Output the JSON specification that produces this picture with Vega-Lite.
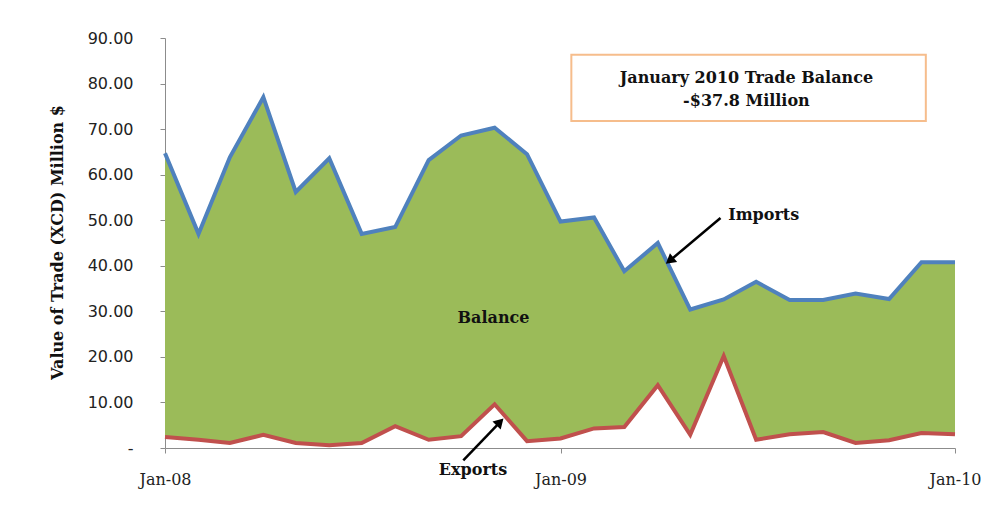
{
  "$schema": "https://vega.github.io/schema/vega-lite/v6.json",
  "autosize": "none",
  "width": 790,
  "height": 410,
  "padding": {"left": 165, "top": 38, "right": 42, "bottom": 66},
  "background": "white",
  "config": {"view": {"stroke": null}},
  "datasets": {
    "trade": [
      {"month": "2008-01-01", "imports": 64.7, "exports": 2.4},
      {"month": "2008-02-01", "imports": 47.0, "exports": 1.8},
      {"month": "2008-03-01", "imports": 63.8, "exports": 1.1},
      {"month": "2008-04-01", "imports": 77.0, "exports": 2.9},
      {"month": "2008-05-01", "imports": 56.2, "exports": 1.1},
      {"month": "2008-06-01", "imports": 63.6, "exports": 0.6},
      {"month": "2008-07-01", "imports": 47.0, "exports": 1.1},
      {"month": "2008-08-01", "imports": 48.5, "exports": 4.8},
      {"month": "2008-09-01", "imports": 63.2, "exports": 1.8},
      {"month": "2008-10-01", "imports": 68.6, "exports": 2.6},
      {"month": "2008-11-01", "imports": 70.3, "exports": 9.6},
      {"month": "2008-12-01", "imports": 64.5, "exports": 1.5},
      {"month": "2009-01-01", "imports": 49.7, "exports": 2.1},
      {"month": "2009-02-01", "imports": 50.6, "exports": 4.3},
      {"month": "2009-03-01", "imports": 38.8, "exports": 4.6},
      {"month": "2009-04-01", "imports": 45.0, "exports": 13.8},
      {"month": "2009-05-01", "imports": 30.4, "exports": 2.9},
      {"month": "2009-06-01", "imports": 32.6, "exports": 20.2},
      {"month": "2009-07-01", "imports": 36.5, "exports": 1.8},
      {"month": "2009-08-01", "imports": 32.5, "exports": 3.0},
      {"month": "2009-09-01", "imports": 32.5, "exports": 3.5},
      {"month": "2009-10-01", "imports": 33.9, "exports": 1.1},
      {"month": "2009-11-01", "imports": 32.7, "exports": 1.7},
      {"month": "2009-12-01", "imports": 40.8, "exports": 3.3},
      {"month": "2010-01-01", "imports": 40.8, "exports": 3.0}
    ],
    "labels": [
      {"label": "Balance", "month": "2008-10-31", "value": 28.5},
      {"label": "Imports", "month": "2009-07-08", "value": 51.2},
      {"label": "Exports", "month": "2008-10-12", "value": -4.9}
    ],
    "arrows": [
      {"name": "Imports", "month": "2009-05-29", "value": 50.5, "month2": "2009-04-12", "value2": 41.1},
      {"name": "Exports", "month": "2008-10-03", "value": -2.7, "month2": "2008-11-06", "value2": 5.7}
    ],
    "box": [
      {"month": "2009-01-11", "month2": "2009-12-05", "value": 71.8, "value2": 86.3}
    ],
    "boxtext": [
      {"line": "January 2010 Trade Balance", "month": "2009-06-22", "value": 81.3},
      {"line": "-$37.8 Million", "month": "2009-06-22", "value": 76.2}
    ]
  },
  "layer": [
    {
      "data": {"name": "trade"},
      "mark": {"type": "area", "color": "#9BBB59"},
      "encoding": {
        "x": {
          "field": "month", "type": "temporal",
          "scale": {"type": "utc", "domain": [{"year": 2008, "month": 1, "date": 1, "utc": true}, {"year": 2010, "month": 1, "date": 1, "utc": true}]},
          "axis": {
            "values": [{"year": 2008, "month": 1, "date": 1, "utc": true}, {"year": 2009, "month": 1, "date": 1, "utc": true}, {"year": 2010, "month": 1, "date": 1, "utc": true}],
            "format": "%b-%y",
            "title": null,
            "grid": false,
            "domainColor": "#8C8C8C",
            "tickColor": "#8C8C8C",
            "tickSize": 5,
            "labelFont": "DejaVu Serif",
            "labelFontSize": 16,
            "labelColor": "#222222",
            "labelPadding": 18,
            "labelFlush": false
          }
        },
        "y": {
          "field": "imports", "type": "quantitative",
          "scale": {"domain": [0, 90], "nice": false},
          "axis": {
            "values": [0, 10, 20, 30, 40, 50, 60, 70, 80, 90],
            "labelExpr": "datum.value == 0 ? '-' : format(datum.value, '.2f')",
            "title": "Value of Trade (XCD) Million $",
            "titleFont": "DejaVu Serif",
            "titleFontSize": 16,
            "titleFontWeight": "bold",
            "titleColor": "#111111",
            "titleX": -108,
            "titleY": 204,
            "titleBaseline": "middle",
            "titleAngle": -90,
            "grid": false,
            "domainColor": "#8C8C8C",
            "tickColor": "#8C8C8C",
            "tickSize": 5,
            "labelFont": "DejaVu Sans",
            "labelFontSize": 16,
            "labelColor": "#222222",
            "labelPadding": 27
          }
        },
        "y2": {"field": "exports"}
      }
    },
    {
      "data": {"name": "trade"},
      "mark": {"type": "line", "color": "#C0504D", "strokeWidth": 4},
      "encoding": {
        "x": {"field": "month", "type": "temporal"},
        "y": {"field": "exports", "type": "quantitative"}
      }
    },
    {
      "data": {"name": "trade"},
      "mark": {"type": "line", "color": "#4F81BD", "strokeWidth": 4},
      "encoding": {
        "x": {"field": "month", "type": "temporal"},
        "y": {"field": "imports", "type": "quantitative"}
      }
    },
    {
      "data": {"name": "labels"},
      "mark": {"type": "text", "font": "DejaVu Serif", "fontSize": 16, "fontWeight": "bold", "color": "#111111", "align": "center", "baseline": "middle"},
      "encoding": {
        "x": {"field": "month", "type": "temporal"},
        "y": {"field": "value", "type": "quantitative"},
        "text": {"field": "label"}
      }
    },
    {
      "data": {"name": "arrows"},
      "mark": {"type": "rule", "color": "black", "strokeWidth": 2.5},
      "encoding": {
        "x": {"field": "month", "type": "temporal"},
        "y": {"field": "value", "type": "quantitative"},
        "x2": {"field": "month2"},
        "y2": {"field": "value2"}
      }
    },
    {
      "data": {"name": "arrows"},
      "transform": [{"filter": "datum.name == 'Imports'"}],
      "mark": {"type": "point", "shape": "triangle-up", "filled": true, "color": "black", "opacity": 1, "size": 130, "angle": 231},
      "encoding": {
        "x": {"field": "month2", "type": "temporal"},
        "y": {"field": "value2", "type": "quantitative"}
      }
    },
    {
      "data": {"name": "arrows"},
      "transform": [{"filter": "datum.name == 'Exports'"}],
      "mark": {"type": "point", "shape": "triangle-up", "filled": true, "color": "black", "opacity": 1, "size": 130, "angle": 44},
      "encoding": {
        "x": {"field": "month2", "type": "temporal"},
        "y": {"field": "value2", "type": "quantitative"}
      }
    },
    {
      "data": {"name": "box"},
      "mark": {"type": "rect", "fill": "white", "stroke": "#F6BD8C", "strokeWidth": 2},
      "encoding": {
        "x": {"field": "month", "type": "temporal"},
        "x2": {"field": "month2"},
        "y": {"field": "value", "type": "quantitative"},
        "y2": {"field": "value2"}
      }
    },
    {
      "data": {"name": "boxtext"},
      "mark": {"type": "text", "font": "DejaVu Serif", "fontSize": 16, "fontWeight": "bold", "color": "#111111", "align": "center", "baseline": "middle"},
      "encoding": {
        "x": {"field": "month", "type": "temporal"},
        "y": {"field": "value", "type": "quantitative"},
        "text": {"field": "line"}
      }
    }
  ]
}
